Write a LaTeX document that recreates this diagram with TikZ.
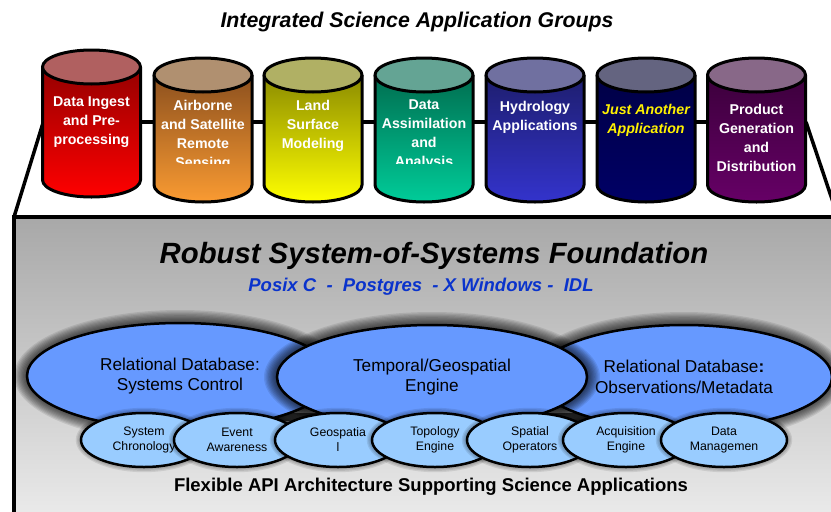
\documentclass[tikz,border=0pt]{standalone}
\usepackage{fontspec}
\setmainfont{Liberation Sans}
\usetikzlibrary{shapes.geometric}

\definecolor{ellblue}{RGB}{102,153,255}
\definecolor{subblue}{RGB}{153,204,255}
\definecolor{stackblue}{RGB}{10,51,204}
\definecolor{boxtop}{RGB}{168,168,168}
\definecolor{boxbot}{RGB}{236,236,236}
\definecolor{barGray}{RGB}{70,70,70}
% cylinder colours: lid, upper body, lower body
\definecolor{lidA}{RGB}{176,96,96}   \definecolor{hiA}{RGB}{150,0,0}   \definecolor{loA}{RGB}{255,0,0}
\definecolor{lidB}{RGB}{176,144,112} \definecolor{hiB}{RGB}{140,80,30} \definecolor{loB}{RGB}{250,155,50}
\definecolor{lidC}{RGB}{176,176,100} \definecolor{hiC}{RGB}{140,140,0} \definecolor{loC}{RGB}{255,255,0}
\definecolor{lidD}{RGB}{100,164,148} \definecolor{hiD}{RGB}{0,110,80}  \definecolor{loD}{RGB}{0,204,153}
\definecolor{lidE}{RGB}{112,112,160} \definecolor{hiE}{RGB}{30,30,110} \definecolor{loE}{RGB}{51,51,204}
\definecolor{lidF}{RGB}{100,100,128} \definecolor{hiF}{RGB}{0,0,70}    \definecolor{loF}{RGB}{0,0,102}
\definecolor{lidG}{RGB}{136,104,136} \definecolor{hiG}{RGB}{60,0,60}   \definecolor{loG}{RGB}{102,0,102}

\tikzset{
  cylline/.style={line width=3pt, draw=black, line join=round},
  linkline/.style={line width=4pt, draw=black},
  cyltext/.style={text=white, font=\bfseries\fontsize{14.2}{19}\selectfont, align=center, inner sep=0pt},
  bigell/.style={ellipse, draw=black, line width=2.5pt, fill=ellblue, inner sep=0pt,
    font=\fontsize{17.2}{20.5}\selectfont, align=center},
  subell/.style={ellipse, draw=black, line width=2.5pt, fill=subblue, inner sep=0pt,
    minimum width=126pt, minimum height=54pt,
    font=\fontsize{12.3}{15}\selectfont, align=center},
}

% one application cylinder: centre x, lid centre y, base centre y, colour suffix
\newcommand\appcyl[4]{%
  \shade[top color=hi#4, bottom color=lo#4] (#1-49,#2) -- (#1-49,#3)
     arc[start angle=180, end angle=0, x radius=49, y radius=17] -- (#1+49,#2) -- cycle;
  \draw[cylline] (#1-49,#2) -- (#1-49,#3)
     arc[start angle=180, end angle=0, x radius=49, y radius=17] -- (#1+49,#2);
  \filldraw[cylline, fill=lid#4] (#1,#2) ellipse[x radius=49, y radius=17];
}

% soft dark glow round an ellipse: centre, x radius, y radius, layers
\newcommand\halo[4]{%
  \foreach \k in {1,...,#4}{%
    \fill[black, opacity=0.09] (#1) ellipse[x radius=#2+\k*1.3, y radius=#3+\k*1.3];}%
}

\begin{document}
\begin{tikzpicture}[x=1pt, y=-1pt]
\useasboundingbox (0,0) rectangle (831,512);
\clip (0,0) rectangle (831,512);

% title
\node[font=\bfseries\itshape\fontsize{21.3}{24}\selectfont] (title) at (417,22) {Integrated Science Application Groups};

% anchor points
\coordinate (boxnw) at (14,217);
\coordinate (boxne) at (838,217);
\coordinate (cyl1) at (91.5,122);
\coordinate (cyl7) at (756.5,122);
\coordinate (cyl1w) at (43,123);
\coordinate (cyl7e) at (806,122);

% foundation box
\draw[line width=3.5pt, top color=boxtop, bottom color=boxbot] (boxnw) rectangle (850,525);

% links from the application row to the foundation
\draw[line width=3.5pt] (cyl1w) -- (boxnw);
\draw[line width=3.5pt] (cyl7e) -- (boxne);
\draw[linkline] (cyl1) -- (cyl7);

% application cylinders
\appcyl{91.5}{67}{180}{A}
\appcyl{203}{75}{185}{B}
\appcyl{313}{75}{185}{C}
\appcyl{424}{75}{185}{D}
\appcyl{535}{75}{185}{E}
\appcyl{646}{75}{185}{F}
\appcyl{756.5}{75}{185}{G}

% cylinder labels
\node[cyltext] (t1) at (91.5,122.5) {Data Ingest\\and Pre-\\processing};
\begin{scope}
  \clip (150,90) rectangle (480,163.5);
  \node[cyltext] (t2) at (203,135) {Airborne\\and Satellite\\Remote\\Sensing};
  \node[cyltext] (t4) at (424,135) {Data\\Assimilation\\and\\Analysis};
\end{scope}
\node[cyltext] (t3) at (313,126) {Land\\Surface\\Modeling};
\node[cyltext] (t5) at (535,117.5) {Hydrology\\Applications};
\node[cyltext, text=yellow, font=\bfseries\itshape\fontsize{14.2}{19}\selectfont] (t6) at (646,120) {Just Another\\Application};
\node[cyltext] (t7) at (756.5,138) {Product\\Generation\\and\\Distribution};

% foundation headings
\node[font=\bfseries\itshape\fontsize{29.3}{34}\selectfont] (found) at (434,256) {Robust System-of-Systems Foundation};
\node[text=stackblue, font=\bfseries\itshape\fontsize{18.5}{22}\selectfont] (stack) at (421,287)
  {Posix C\ \ -\ \ Postgres\ \ - X Windows -\ \ IDL};

% core components
\coordinate (barw) at (180,417);
\coordinate (bare) at (684,417);
\draw[line width=8pt, barGray] (barw) -- (bare);

\coordinate (c1) at (180,376);
\coordinate (c2) at (432,377);
\coordinate (c3) at (684,377);
\halo{c1}{153}{53}{10}
\node[bigell, minimum width=306pt, minimum height=106pt] (sysctl) at (c1) {Relational Database:\\Systems Control};
\halo{c3}{148}{52}{10}
\node[bigell, minimum width=296pt, minimum height=104pt] (obsdb) at (c3) {Relational Database\textbf{:}\\Observations/Metadata};
\halo{c2}{155}{52}{10}
\node[bigell, minimum width=310pt, minimum height=104pt] (tgeng) at (c2) {Temporal/Geospatial\\Engine};

% service modules
\foreach \nm/\x/\txt in {chron/144/{System\\Chronology}, event/237/{Event\\Awareness},
    geo/338/{Geospatia\\l}, topo/435/{Topology\\Engine}, spat/530/{Spatial\\Operators},
    acq/626/{Acquisition\\Engine}, dman/724/{Data\\Managemen}}{%
  \halo{\x,440}{63}{27}{4}
  \node[subell] (\nm) at (\x,440) {\txt};
}

\node[font=\bfseries\fontsize{18.5}{22}\selectfont] (api) at (431,487) {Flexible API Architecture Supporting Science Applications};
\end{tikzpicture}
\end{document}
